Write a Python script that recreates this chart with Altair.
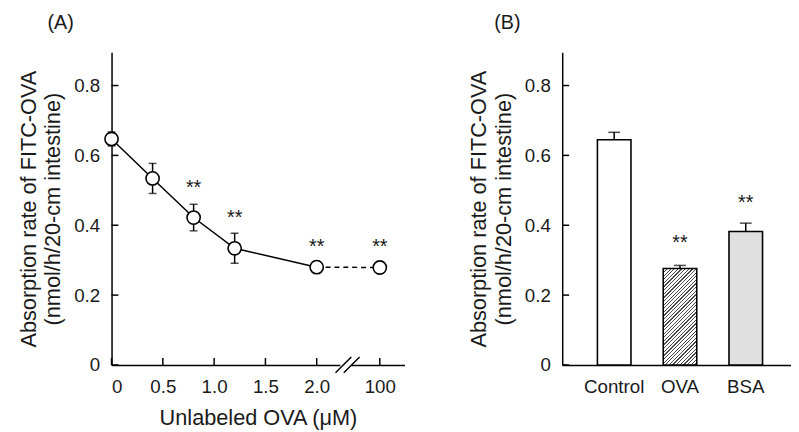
import altair as alt
import pandas as pd

# ---------------- data ----------------
conc = [0, 0.4, 0.8, 1.2, 2.0, 100]
rate = [0.647, 0.534, 0.422, 0.334, 0.280, 0.279]
sem = [0.020, 0.043, 0.038, 0.043, 0.016, 0.006]
star_conc = [0.8, 1.2, 2.0, 100]
star_y = [0.515, 0.430, 0.347, 0.347]

x_ticks = [0, 0.5, 1.0, 1.5, 2.0, 100]
y_ticks = [0, 0.2, 0.4, 0.6, 0.8]

groups = ["Control", "OVA", "BSA"]
bar_val = [0.645, 0.276, 0.382]
bar_err = [0.021, 0.009, 0.024]
bar_star_y = [None, 0.356, 0.472]

# ---------------- layout constants ----------------
BREAK_POS = 2.615          # axis position used for the 100 µM point
XMAX = 2.855
YMAX = 0.895
WA, HA = 297, 317
WB, HB = 232, 317
FONT = "Liberation Sans"
TXT = "#1a1a1a"
LFS, TFS, PFS, SFS = 19, 22, 20, 20


def xpos(c):
    return c if c <= 2.0 else BREAK_POS


dfA = pd.DataFrame({"conc": conc, "rate": rate, "err": sem})
dfA["pos"] = [xpos(c) for c in conc]
dfA["lo"] = dfA["rate"] - dfA["err"]
dfA["hi"] = dfA["rate"] + dfA["err"]

dfStarA = pd.DataFrame({"pos": [xpos(c) for c in star_conc], "y": star_y, "t": "**"})
dfXT = pd.DataFrame({"pos": [xpos(c) for c in x_ticks]})
dfYT = pd.DataFrame({"v": y_ticks})

xsc = alt.Scale(domain=[0, XMAX], nice=False, zero=False)
ysc = alt.Scale(domain=[0, YMAX], nice=False)

yaxis = alt.Axis(
    values=y_ticks, ticks=False, grid=False, labelPadding=12,
    labelExpr="datum.value == 0 ? '0' : format(datum.value, '.1f')",
    title=["Absorption rate of FITC-OVA", "(nmol/h/20-cm intestine)"],
    titlePadding=9, titleLineHeight=25,
)

base = alt.Chart(dfA)

xaxisA = alt.Axis(
    values=[xpos(c) for c in x_ticks], ticks=False, grid=False, labelPadding=13,
    labelExpr="datum.value > 2.5 ? '100' : (datum.value == 0 ? '0' : format(datum.value, '.1f'))",
    title="Unlabeled OVA (\u03bcM)", titlePadding=11,
)

frame = base.mark_point(opacity=0).encode(
    x=alt.X("pos:Q", scale=xsc, axis=xaxisA),
    y=alt.Y("rate:Q", scale=ysc, axis=yaxis),
)

ytickA = alt.Chart(dfYT).mark_rule(color="black", strokeWidth=1.5).encode(
    y=alt.Y("v:Q", scale=ysc), x=alt.value(0), x2=alt.value(7))
xtickA = alt.Chart(dfXT).mark_rule(color="black", strokeWidth=1.5).encode(
    x=alt.X("pos:Q", scale=xsc), y=alt.value(HA), y2=alt.value(HA - 7))

dfGap = pd.DataFrame({"a": [2.23], "b": [2.34]})
gap = alt.Chart(dfGap).mark_rule(color="white", strokeWidth=4).encode(
    x=alt.X("a:Q", scale=xsc), x2="b:Q", y=alt.value(HA), y2=alt.value(HA))
dfBrk = pd.DataFrame({"a": [2.183, 2.264], "b": [2.337, 2.418]})
brk = alt.Chart(dfBrk).mark_rule(color="black", strokeWidth=1.5).encode(
    x=alt.X("a:Q", scale=xsc), x2="b:Q", y=alt.value(HA + 8), y2=alt.value(HA - 8))

errA = base.mark_rule(color="black", strokeWidth=1.5).encode(
    x=alt.X("pos:Q", scale=xsc), y=alt.Y("lo:Q", scale=ysc), y2="hi:Q")
capLo = base.mark_tick(color="black", thickness=1.5, size=8, orient="horizontal").encode(
    x=alt.X("pos:Q", scale=xsc), y=alt.Y("lo:Q", scale=ysc))
capHi = base.mark_tick(color="black", thickness=1.5, size=8, orient="horizontal").encode(
    x=alt.X("pos:Q", scale=xsc), y=alt.Y("hi:Q", scale=ysc))

lineSolid = base.transform_filter(alt.datum.conc <= 2).mark_line(
    color="black", strokeWidth=1.5).encode(
    x=alt.X("pos:Q", scale=xsc), y=alt.Y("rate:Q", scale=ysc))
lineDash = base.transform_filter(alt.datum.conc >= 2).mark_line(
    color="black", strokeWidth=1.5, strokeDash=[5, 4]).encode(
    x=alt.X("pos:Q", scale=xsc), y=alt.Y("rate:Q", scale=ysc))

pts = base.mark_point(shape="circle", size=180, filled=True, fill="white",
                      stroke="black", strokeWidth=1.6, opacity=1).encode(
    x=alt.X("pos:Q", scale=xsc), y=alt.Y("rate:Q", scale=ysc))

starsA = alt.Chart(dfStarA).mark_text(fontSize=SFS, font=FONT, color=TXT, baseline="middle", dy=3).encode(
    x=alt.X("pos:Q", scale=xsc), y=alt.Y("y:Q", scale=ysc), text="t:N")

panelA = alt.layer(frame, ytickA, xtickA, gap, brk, errA, capLo, capHi,
                   lineSolid, lineDash, pts, starsA).properties(
    width=WA, height=HA,
    title=alt.TitleParams("(A)", anchor="start", frame="group", dx=-65, offset=20, fontSize=PFS,
                          font=FONT, fontWeight="normal", color=TXT))

# ---------------- panel B ----------------
dfB = pd.DataFrame({"g": groups, "v": bar_val, "e": bar_err})
dfB["hi"] = dfB["v"] + dfB["e"]
dfStarB = pd.DataFrame({"g": groups, "y": bar_star_y, "t": "**"}).dropna()

bsc = alt.Scale(domain=groups, paddingInner=0.49, paddingOuter=0.484, align=0.553)
xaxisB = alt.Axis(ticks=False, grid=False, labelPadding=13, labelAngle=0, title=None)

# hatch gradient for OVA bar (45 degree stripes)
Wbar = (1 - 0.49) * WB / (3 - 0.49 + 2 * 0.484)
Hbar = bar_val[1] / YMAX * HB
k = (Wbar + Hbar) / (Wbar ** 2 + Hbar ** 2)
span = (Wbar + Hbar) / 2 ** 0.5
period = 2.6 / span
stops = []
o = 0.0
while o < 1.0:
    a = o
    b = min(o + 0.9 / span, 1.0)
    stops += [alt.GradientStop(color="white", offset=a),
              alt.GradientStop(color="#4a4a4a", offset=a),
              alt.GradientStop(color="#4a4a4a", offset=b),
              alt.GradientStop(color="white", offset=b)]
    o += period
stops.append(alt.GradientStop(color="white", offset=1.0))
hatch = alt.LinearGradient(gradient="linear", stops=stops, x1=0, y1=0,
                           x2=Wbar * k, y2=Hbar * k)

baseB = alt.Chart(dfB)
frameB = baseB.mark_bar(opacity=0).encode(
    x=alt.X("g:N", sort=groups, scale=bsc, axis=xaxisB),
    y=alt.Y("v:Q", scale=ysc, axis=yaxis))

def barlayer(name, fill):
    return baseB.transform_filter(alt.datum.g == name).mark_bar(
        fill=fill, stroke="black", strokeWidth=1.6).encode(
        x=alt.X("g:N", sort=groups, scale=bsc), y=alt.Y("v:Q", scale=ysc))

bars = [barlayer("Control", "white"), barlayer("OVA", hatch), barlayer("BSA", "#e0e0e0")]

errB = baseB.mark_rule(color="black", strokeWidth=1.5).encode(
    x=alt.X("g:N", sort=groups, scale=bsc), y=alt.Y("v:Q", scale=ysc), y2="hi:Q")
capB = baseB.mark_tick(color="black", thickness=1.5, size=12, orient="horizontal").encode(
    x=alt.X("g:N", sort=groups, scale=bsc), y=alt.Y("hi:Q", scale=ysc))
ytickB = alt.Chart(dfYT).mark_rule(color="black", strokeWidth=1.5).encode(
    y=alt.Y("v:Q", scale=ysc), x=alt.value(0), x2=alt.value(7))
starsB = alt.Chart(dfStarB).mark_text(fontSize=SFS, font=FONT, color=TXT, baseline="middle", dy=3).encode(
    x=alt.X("g:N", sort=groups, scale=bsc), y=alt.Y("y:Q", scale=ysc), text="t:N")

panelB = alt.layer(frameB, *bars, errB, capB, ytickB, starsB).properties(
    width=WB, height=HB,
    title=alt.TitleParams("(B)", anchor="start", frame="group", dx=-69, offset=20, fontSize=PFS,
                          font=FONT, fontWeight="normal", color=TXT))

chart = alt.hconcat(panelA, panelB, spacing=64).properties(
    padding={"left": 9, "top": 2, "right": 0, "bottom": 0},
    background="white",
).configure_view(stroke=None).configure_axis(
    labelFont=FONT, titleFont=FONT, labelFontSize=LFS, titleFontSize=TFS,
    labelColor=TXT, titleColor=TXT, titleFontWeight="normal",
    domainColor="black", domainWidth=1.5,
)

chart.save("out.html", embed_options={"renderer": "svg", "actions": False})
